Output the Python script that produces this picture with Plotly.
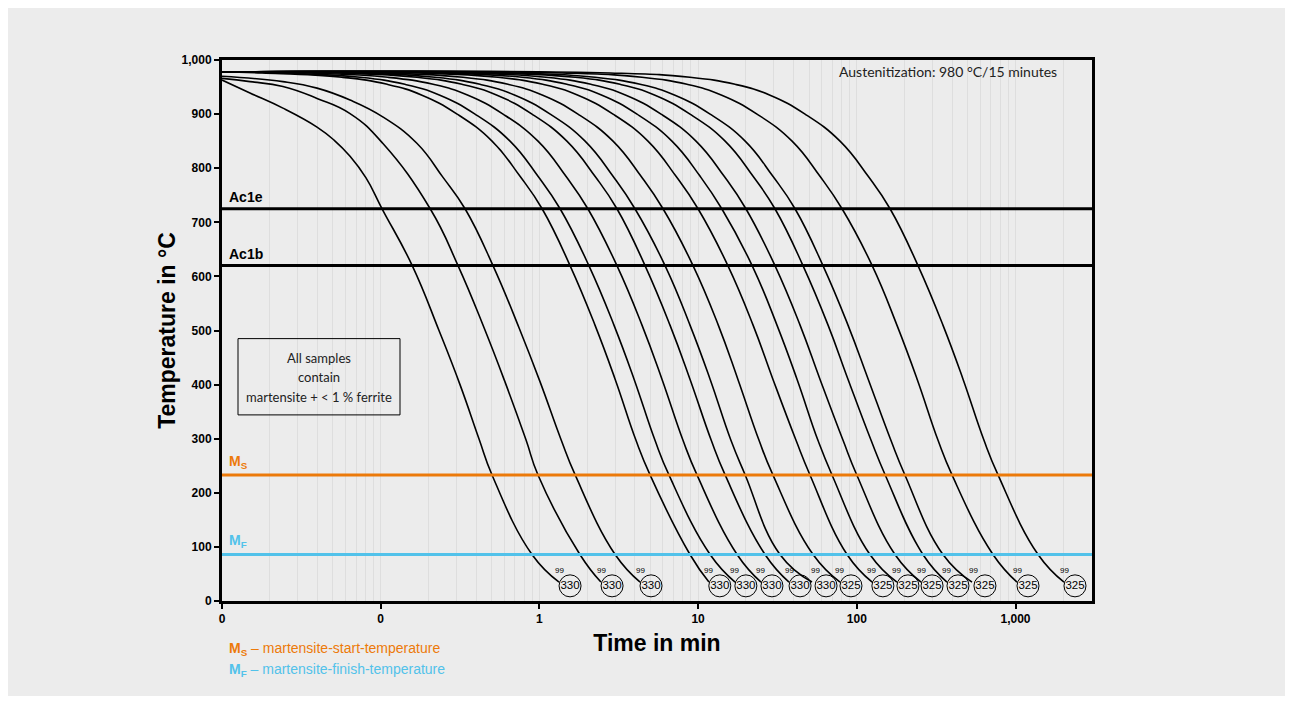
import math
import plotly.graph_objects as go

# ---------------- data ----------------
x_tick_vals = [0.01, 0.1, 1, 10, 100, 1000]
x_tick_text = ["0", "0", "1", "10", "100", "1,000"]
y_tick_vals = [0, 100, 200, 300, 400, 500, 600, 700, 800, 900, 1000]

# reference temperatures (°C)
AC1E = 725
AC1B = 620
MS = 233
MF = 86

# cooling curves: time in min / temperature in °C
temp_c01 = [963, 939, 911, 876, 852, 822, 782, 725, 620, 500, 400, 300, 233, 86, 35]
time_c01 = [0.01, 0.0150, 0.0242, 0.0397, 0.0508, 0.0641, 0.0808, 0.102, 0.158, 0.233, 0.316, 0.416, 0.503, 0.898, 1.33]

temp_c02 = [966, 960, 951, 929, 901, 846, 725, 620, 505, 405, 298, 233, 86, 35]
time_c02 = [0.01, 0.0150, 0.0242, 0.0397, 0.0641, 0.103, 0.205, 0.307, 0.448, 0.607, 0.823, 0.980, 1.80, 2.44]

temp_c03 = [970, 960, 948, 926, 895, 846, 783, 725, 620, 505, 405, 298, 233, 86, 35]
time_c03 = [0.01, 0.0242, 0.0397, 0.0641, 0.103, 0.169, 0.247, 0.340, 0.510, 0.744, 1.01, 1.37, 1.68, 3.00, 4.31]

temp_common = [978, 976, 968, 955, 935, 900, 850, 785, 725, 620, 510, 410, 297, 233, 86, 35]
time_c04 = [0.01, 0.0179, 0.0570, 0.110, 0.182, 0.303, 0.503, 0.755, 1.04, 1.56, 2.24, 3.00, 4.06, 4.98, 8.89, 11.7]
time_c05 = [0.01, 0.0232, 0.0741, 0.142, 0.236, 0.393, 0.653, 0.980, 1.35, 2.05, 2.95, 3.95, 5.35, 6.55, 11.9, 17.1]
time_c06 = [0.01, 0.0348, 0.111, 0.214, 0.355, 0.590, 0.980, 1.47, 2.02, 3.08, 4.43, 5.92, 8.03, 9.84, 17.6, 24.9]
time_c07 = [0.01, 0.0530, 0.169, 0.325, 0.541, 0.898, 1.49, 2.24, 3.08, 4.63, 6.65, 8.89, 12.1, 14.8, 26.4, 37.4]
time_c08 = [0.01, 0.0689, 0.220, 0.422, 0.702, 1.17, 1.94, 2.91, 4.00, 6.19, 8.89, 11.9, 16.1, 19.8, 32.8, 52.2]
time_c09 = [0.01, 0.103, 0.330, 0.634, 1.05, 1.75, 2.91, 4.37, 6.01, 9.29, 13.4, 17.8, 24.2, 29.6, 53.0, 78.4]
time_c10 = [0.01, 0.172, 0.548, 1.05, 1.75, 2.91, 4.83, 7.26, 9.99, 15.4, 22.2, 29.6, 41.4, 50.7, 86.8, 125]
time_c11 = [0.01, 0.243, 0.777, 1.49, 2.48, 4.12, 6.84, 10.3, 14.1, 21.9, 31.4, 42.0, 56.9, 69.8, 121, 179]
time_c12 = [0.01, 0.345, 1.10, 2.11, 3.51, 5.84, 9.70, 14.6, 20.0, 30.5, 43.9, 58.6, 81.9, 100, 174, 254]
time_c13 = [0.01, 0.525, 1.68, 3.22, 5.35, 8.89, 14.8, 22.2, 30.5, 45.8, 65.9, 88.0, 123, 151, 261, 370]
time_c14 = [0.01, 0.702, 2.24, 4.31, 7.15, 11.9, 19.8, 29.6, 40.8, 61.2, 88.0, 118, 164, 201, 349, 532]
time_c15 = [0.01, 1.39, 4.43, 8.51, 14.1, 23.5, 39.1, 58.6, 80.7, 125, 179, 240, 325, 398, 721, 1022]
time_c16 = [0.01, 2.79, 8.89, 17.1, 28.4, 47.2, 78.4, 118, 162, 243, 349, 467, 633, 776, 1387, 2021]

# end-of-curve results: hardness (HV) in circles and the small "99" labels
end_times = [1.56, 2.87, 5.05, 13.7, 20.0, 29.2, 43.9, 64.0, 91.9, 146, 210, 298, 434, 642, 1199, 2371]
end_hardness = ["330", "330", "330", "330", "330", "330", "330", "330",
                "325", "325", "325", "325", "325", "325", "325", "325"]
end_small = ["99", "99", "99", "99", "99", "99", "99", "99",
             "99", "99", "99", "99", "99", "99", "99", "99"]
END_TEMP = 28

box_lines = ["All samples", "contain", "martensite + &lt; 1 % ferrite"]

# ---------------- styles ----------------
BG = "#ececec"
GRID = "#dedede"
ORANGE = "#ec7a0a"
BLUE = "#52c2ea"
HELV = "Liberation Sans, Arial, sans-serif"
CAL = "Lato, Open Sans, sans-serif"

curves = [
    (time_c01, temp_c01), (time_c02, temp_c02), (time_c03, temp_c03),
    (time_c04, temp_common), (time_c05, temp_common), (time_c06, temp_common),
    (time_c07, temp_common), (time_c08, temp_common), (time_c09, temp_common),
    (time_c10, temp_common), (time_c11, temp_common), (time_c12, temp_common),
    (time_c13, temp_common), (time_c14, temp_common), (time_c15, temp_common),
    (time_c16, temp_common),
]

fig = go.Figure()

for tx, ty in curves:
    fig.add_trace(go.Scatter(
        x=tx, y=ty, mode="lines",
        line=dict(color="black", width=1.6, shape="spline", smoothing=1.3),
        hoverinfo="skip", showlegend=False,
    ))

fig.add_trace(go.Scatter(
    x=end_times, y=[END_TEMP] * len(end_times), mode="markers+text",
    text=end_hardness, textposition="middle center",
    textfont=dict(family=HELV, size=11.5, color="black"),
    marker=dict(size=22, color="rgba(0,0,0,0)", line=dict(color="black", width=1)),
    hoverinfo="skip", showlegend=False, cliponaxis=False,
))

shapes = []
for yv, col in [(AC1E, "black"), (AC1B, "black"), (MS, ORANGE), (MF, BLUE)]:
    shapes.append(dict(type="line", xref="paper", x0=0, x1=1, yref="y", y0=yv, y1=yv,
                       line=dict(color=col, width=3), layer="above"))
# box around note
shapes.append(dict(type="rect", xref="paper", yref="paper", x0=0.0184, x1=0.2046,
                   y0=0.344, y1=0.485, line=dict(color="black", width=1),
                   fillcolor="rgba(0,0,0,0)"))

annotations = []
for yv, txt, col in [(AC1E, "<b>Ac1e</b>", "black"), (AC1B, "<b>Ac1b</b>", "black"),
                     (MS, "<b>M<sub>S</sub></b>", ORANGE), (MF, "<b>M<sub>F</sub></b>", BLUE)]:
    annotations.append(dict(xref="paper", x=0.006, xanchor="left", yref="y", y=yv,
                            yanchor="bottom", yshift=2, text=txt, showarrow=False,
                            font=dict(family=HELV, size=14, color=col)))

# annotation x on a log axis is given in log10 units
for tv, lab in zip(end_times, end_small):
    annotations.append(dict(x=math.log10(tv), y=END_TEMP, xref="x", yref="y", text=lab,
                            showarrow=False, xanchor="center", yanchor="middle",
                            xshift=-11, yshift=15,
                            font=dict(family=HELV, size=8, color="black")))

annotations.append(dict(xref="paper", yref="paper", x=0.8345, y=0.978, xanchor="center", yanchor="middle",
                        text="Austenitization: 980 °C/15 minutes",
                        showarrow=False, font=dict(family=CAL, size=14, color="#222222")))

for i, line in enumerate(box_lines):
    annotations.append(dict(xref="paper", yref="paper", x=0.111, y=0.450 - i * 0.036,
                            xanchor="center", yanchor="middle",
                            text=line, showarrow=False,
                            font=dict(family=CAL, size=13, color="#222222")))

annotations.append(dict(xref="paper", yref="paper", x=0.006, xanchor="left", y=-0.089, yanchor="middle",
                        text="<b>M<sub>S</sub></b> – martensite-start-temperature", showarrow=False,
                        font=dict(family=HELV, size=14, color=ORANGE)))
annotations.append(dict(xref="paper", yref="paper", x=0.006, xanchor="left", y=-0.128, yanchor="middle",
                        text="<b>M<sub>F</sub></b> – martensite-finish-temperature", showarrow=False,
                        font=dict(family=HELV, size=14, color=BLUE)))

fig.update_layout(
    width=1277, height=688,
    margin=dict(l=214, r=193, t=52, b=95),
    paper_bgcolor=BG, plot_bgcolor=BG,
    showlegend=False,
    shapes=shapes, annotations=annotations,
    xaxis=dict(
        type="log", range=[-2, 3.482],
        tickvals=x_tick_vals, ticktext=x_tick_text,
        ticks="outside", ticklen=5, tickwidth=2, tickcolor="black",
        tickfont=dict(family=HELV, size=12, color="black", weight="bold"),
        showline=True, linewidth=3, linecolor="black", mirror=True,
        showgrid=True, gridcolor=GRID, gridwidth=1,
        minor=dict(dtick="D1", showgrid=True, gridcolor=GRID, gridwidth=1, ticks=""),
        zeroline=False,
        title=dict(text="<b>Time in min</b>", font=dict(family=HELV, size=23, color="black"), standoff=10),
    ),
    yaxis=dict(
        range=[0, 1000], tickvals=y_tick_vals, tickformat=",",
        ticks="outside", ticklen=5, tickwidth=2, tickcolor="black",
        tickfont=dict(family=HELV, size=12, color="black", weight="bold"),
        showline=True, linewidth=3, linecolor="black", mirror=True,
        showgrid=False, zeroline=False,
        title=dict(text="<b>Temperature in °C</b>", font=dict(family=HELV, size=23, color="black"), standoff=0),
    ),
)

fig.write_html("out.html")
